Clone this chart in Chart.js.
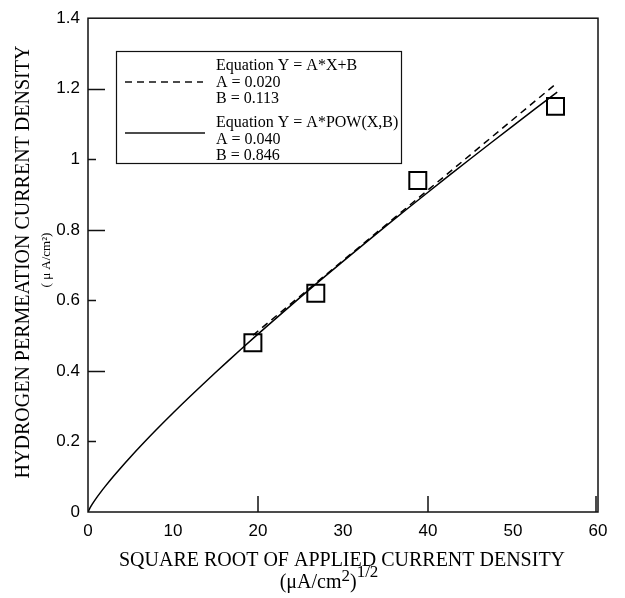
<!DOCTYPE html>
<html lang="en">
<head>
    <meta charset="UTF-8">
    <title>Hydrogen permeation vs applied current density</title>
    <script src="https://cdn.jsdelivr.net/npm/chart.js"></script>
    <style>
        body { margin: 0; background: #fff; }
        #grafico { display: block; }
    </style>
</head>
<body>
    <canvas id="grafico" width="625" height="598"></canvas>
<script>
    // measured points: sqrt of applied current density vs permeation current density
    var medidasX = [19.4, 26.8, 38.8, 55.0];
    var medidasY = [0.48, 0.62, 0.94, 1.15];

    // fit parameters as printed in the legend
    var linA = 0.020, linB = 0.113;
    var powA = 0.040, powB = 0.846;

    // x positions where the fitted curves are evaluated
    var xPotencia = [0, 0.25, 0.5, 1, 1.5, 2, 3, 4, 5, 6, 8, 10, 12, 15, 18, 21, 25, 30, 35, 40, 45, 50, 55.2];
    var xLinear = [19.4, 55.2];

    var ticksX = [0, 10, 20, 30, 40, 50, 60];
    var ticksY = [0, 0.2, 0.4, 0.6, 0.8, 1, 1.2, 1.4];

    var curvaPotencia = xPotencia.map(function (x) { return { x: x, y: powA * Math.pow(x, powB) }; });
    var retaLinear = xLinear.map(function (x) { return { x: x, y: linA * x + linB }; });
    var pontos = medidasX.map(function (x, i) { return { x: x, y: medidasY[i] }; });

    var serif = '"Liberation Serif", "Times New Roman", serif';
    var sans = '"Liberation Sans", Arial, sans-serif';

    // frame, inner tick marks, legend box and axis titles
    var moldura = {
        id: 'moldura',
        afterDraw: function (chart) {
            var ctx = chart.ctx;
            var a = chart.chartArea;
            var sx = chart.scales.x, sy = chart.scales.y;
            ctx.save();
            ctx.strokeStyle = '#111';
            ctx.lineWidth = 1.5;
            ctx.strokeRect(a.left, a.top, a.right - a.left, a.bottom - a.top);

            ctx.beginPath();
            [0.2, 0.4, 0.6, 0.8, 1, 1.2].forEach(function (v, i) {
                var py = Math.round(sy.getPixelForValue(v)) + 0.5;
                var len = (i % 2 == 1) ? 17 : 8;
                ctx.moveTo(a.left, py);
                ctx.lineTo(a.left + len, py);
            });
            [20, 40, 60].forEach(function (v) {
                var px = Math.round(sx.getPixelForValue(v)) - (v == 60 ? 2 : 0);
                ctx.moveTo(px, a.bottom);
                ctx.lineTo(px, a.bottom - 16);
            });
            ctx.stroke();

            // legend
            ctx.lineWidth = 1.2;
            ctx.strokeRect(116.5, 51.5, 285, 112);
            ctx.lineWidth = 1.5;
            ctx.setLineDash([7, 5]);
            ctx.beginPath();
            ctx.moveTo(125, 82);
            ctx.lineTo(203, 82);
            ctx.stroke();
            ctx.setLineDash([]);
            ctx.beginPath();
            ctx.moveTo(125, 133);
            ctx.lineTo(205, 133);
            ctx.stroke();

            ctx.fillStyle = '#000';
            ctx.font = '16px ' + serif;
            ctx.textAlign = 'left';
            ctx.textBaseline = 'alphabetic';
            var linhas = ['Equation Y = A*X+B', 'A = ' + linA.toFixed(3), 'B = ' + linB.toFixed(3),
                          'Equation Y = A*POW(X,B)', 'A = ' + powA.toFixed(3), 'B = ' + powB.toFixed(3)];
            var ys = [70, 87, 103, 127, 144, 160];
            linhas.forEach(function (t, i) { ctx.fillText(t, 216, ys[i]); });

            // x axis title
            ctx.textAlign = 'center';
            ctx.font = '20px ' + serif;
            ctx.fillText('SQUARE ROOT OF APPLIED CURRENT DENSITY', 342, 566);
            var p1 = '(\u03bcA/cm', p2 = '2', p3 = ')', p4 = '1/2';
            ctx.font = '20px ' + serif;
            var w1 = ctx.measureText(p1).width, w3 = ctx.measureText(p3).width;
            ctx.font = '17px ' + serif;
            var w2 = ctx.measureText(p2).width, w4 = ctx.measureText(p4).width;
            var x0 = 329 - (w1 + w2 + w3 + w4) / 2;
            ctx.textAlign = 'left';
            ctx.font = '20px ' + serif;
            ctx.fillText(p1, x0, 588);
            ctx.font = '17px ' + serif;
            ctx.fillText(p2, x0 + w1, 581);
            ctx.font = '20px ' + serif;
            ctx.fillText(p3, x0 + w1 + w2, 588);
            ctx.font = '17px ' + serif;
            ctx.fillText(p4, x0 + w1 + w2 + w3, 577);

            // y axis title
            ctx.save();
            ctx.translate(29, 262);
            ctx.rotate(-Math.PI / 2);
            ctx.textAlign = 'center';
            ctx.font = '20px ' + serif;
            ctx.fillText('HYDROGEN PERMEATION CURRENT DENSITY', 0, 0);
            ctx.restore();
            ctx.save();
            ctx.translate(50, 260);
            ctx.rotate(-Math.PI / 2);
            ctx.textAlign = 'center';
            ctx.font = '13px ' + serif;
            ctx.fillText('( \u03bc A/cm\u00b2)', 0, 0);
            ctx.restore();
            ctx.restore();
        }
    };

    new Chart(document.getElementById('grafico'), {
        type: 'scatter',
        data: {
            datasets: [{
                label: 'Equation Y = A*POW(X,B)',
                data: curvaPotencia,
                showLine: true,
                borderColor: '#000',
                borderWidth: 1.5,
                pointRadius: 0,
                tension: 0.3
            }, {
                label: 'Equation Y = A*X+B',
                data: retaLinear,
                showLine: true,
                borderColor: '#000',
                borderWidth: 1.5,
                borderDash: [7, 5],
                pointRadius: 0
            }, {
                label: 'medidas',
                data: pontos,
                pointStyle: 'rect',
                pointRadius: 12,
                pointBorderWidth: 2,
                pointBorderColor: '#000',
                pointBackgroundColor: 'rgba(255,255,255,0)',
                showLine: false
            }]
        },
        options: {
            responsive: false,
            animation: false,
            layout: { padding: { top: 14, right: 27, left: 0, bottom: 0 } },
            plugins: {
                legend: { display: false },
                tooltip: { enabled: false }
            },
            scales: {
                x: {
                    type: 'linear',
                    min: 0, max: 60,
                    afterBuildTicks: function (s) { s.ticks = ticksX.map(function (v) { return { value: v }; }); },
                    afterFit: function (s) { s.height = 86; },
                    grid: { display: false, drawTicks: false },
                    border: { display: false },
                    ticks: { color: '#000', font: { family: sans, size: 17 }, padding: 9, maxRotation: 0 }
                },
                y: {
                    type: 'linear',
                    min: 0, max: 1.4,
                    afterBuildTicks: function (s) { s.ticks = ticksY.map(function (v) { return { value: v }; }); },
                    afterFit: function (s) { s.width = 88; },
                    grid: { display: false, drawTicks: false },
                    border: { display: false },
                    ticks: {
                        color: '#000', font: { family: sans, size: 17 }, padding: 8,
                        callback: function (v) { return String(+v.toFixed(1)); }
                    }
                }
            }
        },
        plugins: [moldura]
    });
</script>
</body>
</html>
